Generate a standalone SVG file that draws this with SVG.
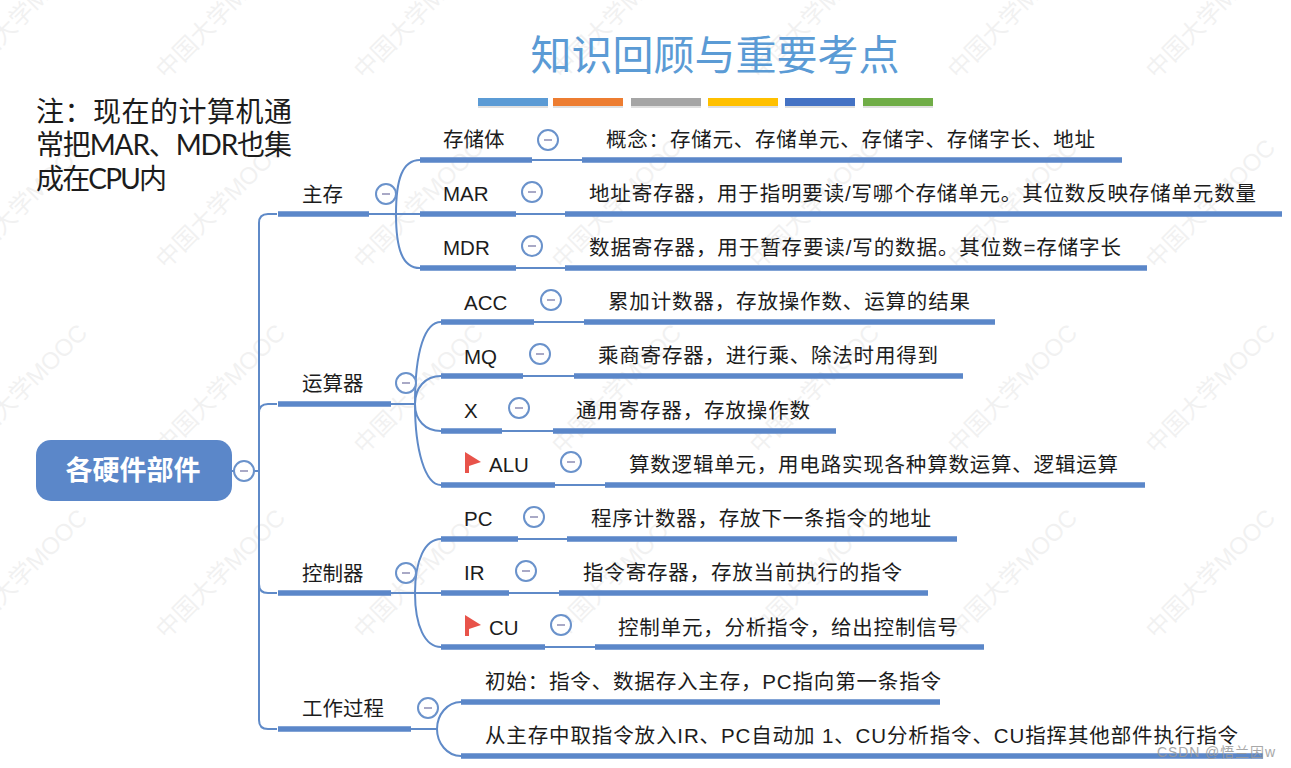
<svg xmlns="http://www.w3.org/2000/svg" width="1291" height="768" viewBox="0 0 1291 768">
<style>
text{font-family:"Liberation Sans","Noto Sans CJK SC",sans-serif;fill:#1c1c1c;font-size:20.5px;dominant-baseline:central}
.wm{font-size:24px;fill:#000;opacity:.05;dominant-baseline:auto}
.note{font-family:Lato,"Noto Sans CJK SC",sans-serif;font-size:28px}
.thin{fill:none;stroke:#5f8ac8;stroke-width:2}
.bar{fill:none;stroke:#5b87c9;stroke-width:5.5}
.c{fill:#fff;stroke:#6a92cb;stroke-width:2}
.m{stroke:#a9a9c6;stroke-width:2}
.flag{fill:#e8534a}
.sh{fill:#999;opacity:.3}
</style>
<defs>
<g id="cb"><circle class="c" r="10"/><line class="m" x1="-4" x2="4"/></g>
<path id="fl" class="flag" d="M0 0 L16 10 L4 14 V21 H0Z"/>
<text id="w" class="wm" transform="rotate(-45)">中国大学MOOC</text>
</defs>
<rect width="1291" height="768" fill="#fff"/>
<g id="watermarks">
<use href="#w" transform="translate(-32 80)"/><use href="#w" transform="translate(166 80)"/><use href="#w" transform="translate(364 80)"/><use href="#w" transform="translate(562 80)"/><use href="#w" transform="translate(760 80)"/><use href="#w" transform="translate(958 80)"/><use href="#w" transform="translate(1156 80)"/>
<use href="#w" transform="translate(-32 270)"/><use href="#w" transform="translate(166 270)"/><use href="#w" transform="translate(364 270)"/><use href="#w" transform="translate(562 270)"/><use href="#w" transform="translate(760 270)"/><use href="#w" transform="translate(958 270)"/><use href="#w" transform="translate(1156 270)"/>
<use href="#w" transform="translate(-32 455)"/><use href="#w" transform="translate(166 455)"/><use href="#w" transform="translate(364 455)"/><use href="#w" transform="translate(562 455)"/><use href="#w" transform="translate(760 455)"/><use href="#w" transform="translate(958 455)"/><use href="#w" transform="translate(1156 455)"/>
<use href="#w" transform="translate(-32 640)"/><use href="#w" transform="translate(166 640)"/><use href="#w" transform="translate(364 640)"/><use href="#w" transform="translate(562 640)"/><use href="#w" transform="translate(760 640)"/><use href="#w" transform="translate(958 640)"/><use href="#w" transform="translate(1156 640)"/>
</g>
<g id="title">
<text x="715" y="56" text-anchor="middle" style="font-size:41px;fill:#5b9bd5">知识回顾与重要考点</text>
<rect class="sh" x="478" y="106" width="70" height="2"/><rect class="sh" x="553" y="106" width="70" height="2"/><rect class="sh" x="631" y="106" width="70" height="2"/><rect class="sh" x="708" y="106" width="70" height="2"/><rect class="sh" x="785" y="106" width="70" height="2"/><rect class="sh" x="863" y="106" width="70" height="2"/>
<rect x="478" y="98" width="70" height="8" fill="#5b9bd5"/><rect x="553" y="98" width="70" height="8" fill="#ed7d31"/><rect x="631" y="98" width="70" height="8" fill="#a5a5a5"/><rect x="708" y="98" width="70" height="8" fill="#ffc000"/><rect x="785" y="98" width="70" height="8" fill="#4472c4"/><rect x="863" y="98" width="70" height="8" fill="#70ad47"/>
</g>
<g id="note">
<text class="note" x="36" y="111" textLength="256">注：现在的计算机通</text>
<text class="note" x="36" y="144" textLength="256">常把MAR、MDR也集</text>
<text class="note" x="36" y="178" textLength="131">成在CPU内</text>
</g>
<g id="connectors">
<path class="thin" d="M232 471H259M277 214H268Q259 214 259 223V720Q259 729 268 729H277M259 413Q259 404 268 404H277M259 584Q259 593 268 593H277"/>
<path class="thin" d="M369 214H396M396 214C396 180 402 160 420 160M396 214H420M396 214C396 248 402 268 420 268M532 160H582M516 214H565M516 268H565"/>
<path class="thin" d="M391 404H415M415 404C415 350 425 322 441 322M415 404C415 388 425 376 441 376M415 404C415 420 425 431 441 431M415 404C415 450 425 485 441 485M534 322H584M523 376H574M502 431H553M555 485H605"/>
<path class="thin" d="M391 593H415M415 593C415 560 425 539 441 539M415 593H441M415 593C415 626 425 647 441 647M518 539H567M509 593H559M545 647H595"/>
<path class="thin" d="M411 729H437M437 729C437 715 447 702 461 702M437 729C437 743 447 756 461 756"/>
<path class="bar" d="M278 214H369M278 404H391M278 593H391M278 729H411"/>
<path class="bar" d="M420 160H532M582 160H1122M420 214H516M565 214H1282M420 268H516M565 268H1147"/>
<path class="bar" d="M441 322H534M584 322H995M441 376H523M574 376H963M441 431H502M553 431H836M441 485H555M605 485H1145"/>
<path class="bar" d="M441 539H518M567 539H957M441 593H509M559 593H928M441 647H545M595 647H984"/>
<path class="bar" d="M461 702H940M461 756H1263"/>
</g>
<g id="root"><rect x="36" y="440" width="196" height="61" rx="15" fill="#5b87c9"/><text x="133" y="471" text-anchor="middle" style="font-size:27px;font-weight:bold;fill:#fff">各硬件部件</text><use href="#cb" x="244" y="471"/></g>
<g id="n-zhucun"><text x="302" y="194">主存</text><use href="#cb" x="386" y="194"/></g>
<g id="n-cunchuti"><text x="443" y="139">存储体</text><use href="#cb" x="548" y="140"/></g>
<g id="n-cunchuti-d"><text x="606" y="139" textLength="489">概念：存储元、存储单元、存储字、存储字长、地址</text></g>
<g id="n-mar"><text x="443" y="193">MAR</text><use href="#cb" x="532" y="192"/></g>
<g id="n-mar-d"><text x="589" y="193" textLength="667">地址寄存器，用于指明要读/写哪个存储单元。其位数反映存储单元数量</text></g>
<g id="n-mdr"><text x="443" y="247">MDR</text><use href="#cb" x="532" y="246"/></g>
<g id="n-mdr-d"><text x="589" y="247" textLength="532">数据寄存器，用于暂存要读/写的数据。其位数=存储字长</text></g>
<g id="n-alu-group"><text x="302" y="383">运算器</text><use href="#cb" x="406" y="383"/></g>
<g id="n-acc"><text x="464" y="302">ACC</text><use href="#cb" x="551" y="300"/></g>
<g id="n-acc-d"><text x="608" y="301" textLength="362">累加计数器，存放操作数、运算的结果</text></g>
<g id="n-mq"><text x="464" y="356">MQ</text><use href="#cb" x="540" y="354"/></g>
<g id="n-mq-d"><text x="598" y="355" textLength="340">乘商寄存器，进行乘、除法时用得到</text></g>
<g id="n-x"><text x="464" y="410">X</text><use href="#cb" x="519" y="408"/></g>
<g id="n-x-d"><text x="576" y="410" textLength="234">通用寄存器，存放操作数</text></g>
<g id="n-alu"><use href="#fl" x="465" y="452"/><text x="489" y="464">ALU</text><use href="#cb" x="571" y="462"/></g>
<g id="n-alu-d"><text x="629" y="464" textLength="489">算数逻辑单元，用电路实现各种算数运算、逻辑运算</text></g>
<g id="n-ctrl"><text x="302" y="573">控制器</text><use href="#cb" x="406" y="573"/></g>
<g id="n-pc"><text x="464" y="518">PC</text><use href="#cb" x="534" y="517"/></g>
<g id="n-pc-d"><text x="591" y="518" textLength="340">程序计数器，存放下一条指令的地址</text></g>
<g id="n-ir"><text x="464" y="572">IR</text><use href="#cb" x="526" y="571"/></g>
<g id="n-ir-d"><text x="583" y="572" textLength="319">指令寄存器，存放当前执行的指令</text></g>
<g id="n-cu"><use href="#fl" x="465" y="615"/><text x="489" y="627">CU</text><use href="#cb" x="561" y="625"/></g>
<g id="n-cu-d"><text x="618" y="627" textLength="340">控制单元，分析指令，给出控制信号</text></g>
<g id="n-proc"><text x="302" y="708">工作过程</text><use href="#cb" x="428" y="708"/></g>
<g id="n-init"><text x="485" y="681" textLength="456">初始：指令、数据存入主存，PC指向第一条指令</text></g>
<g id="n-fetch"><text x="485" y="735" textLength="753">从主存中取指令放入IR、PC自动加 1、CU分析指令、CU指挥其他部件执行指令</text></g>
<text id="csdn" x="1157" y="752" textLength="118" style="font-size:14px;fill:#999;opacity:.85">CSDN @悟兰因w</text>
</svg>
